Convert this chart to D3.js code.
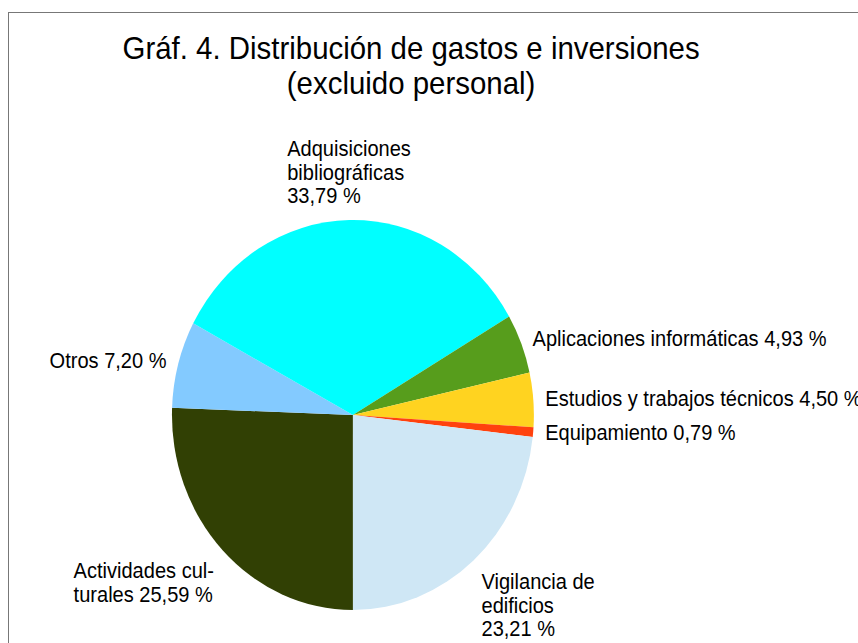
<!DOCTYPE html>
<meta charset="utf-8">
<head>
    <script src="https://d3js.org/d3.v7.min.js"></script>
    <style>
    body { margin: 0; background: white; }
    svg { display: block; background: white; font-family: "Liberation Sans", Arial, sans-serif; }
    </style>
</head>
<body>
    <svg id="svgid" width="858" height="643"></svg>
    <script>
        // data, in clockwise order starting at 6 o'clock
        var categories = ["Actividades culturales", "Otros", "Adquisiciones bibliográficas",
                          "Aplicaciones informáticas", "Estudios y trabajos técnicos",
                          "Equipamiento", "Vigilancia de edificios"];
        var values = [25.59, 7.20, 33.79, 4.93, 4.50, 0.79, 23.21];
        var colors = ["#314004", "#83caff", "#00ffff", "#579d1c", "#ffd320", "#ff420e", "#cfe7f5"];
        var labelLines = [
            ["Actividades cul-", "turales 25,59 %"],
            ["Otros 7,20 %"],
            ["Adquisiciones", "bibliográficas", "33,79 %"],
            ["Aplicaciones informáticas 4,93 %"],
            ["Estudios y trabajos técnicos 4,50 %"],
            ["Equipamiento 0,79 %"],
            ["Vigilancia de", "edificios", "23,21 %"]
        ];
        var titleLines = ["Gráf. 4. Distribución de gastos e inversiones", "(excluido personal)"];

        var svg = d3.select("#svgid");

        // outer frame
        svg.append("rect")
            .attr("x", 8.5).attr("y", 12.5)
            .attr("width", 900).attr("height", 700)
            .style("fill", "none")
            .style("stroke", "#777");

        // the original picture is squeezed horizontally
        var sx = 0.928;
        var g = svg.append("g").attr("transform", "scale(" + sx + ",1)");

        var cx = 380.3, cy = 415, radius = 195, labelR = 208;

        g.selectAll(".title")
            .data(titleLines)
            .enter().append("text")
            .attr("class", "title")
            .attr("x", 443)
            .attr("y", function(d, i) { return 59 + i * 35; })
            .style("text-anchor", "middle")
            .style("font-size", "31.7px")
            .style("fill", "#000")
            .text(function(d) { return d; });

        var pie = d3.pie().sort(null)
            .startAngle(Math.PI).endAngle(3 * Math.PI)
            .value(function(d) { return d; });
        var arcs = pie(values);
        var arc = d3.arc().innerRadius(0).outerRadius(radius);

        var pieG = g.append("g").attr("transform", "translate(" + cx + "," + cy + ")");
        pieG.selectAll("path")
            .data(arcs)
            .enter().append("path")
            .attr("d", arc)
            .style("fill", function(d, i) { return colors[i]; })
            .style("stroke", "none");

        // labels
        var lh = 23.5;
        arcs.forEach(function(d, i) {
            var mid = (d.startAngle + d.endAngle) / 2;
            var s = Math.sin(mid), c = Math.cos(mid);
            var px = cx + labelR * s, py = cy - labelR * c;
            var lines = labelLines[i];
            var t = g.append("text")
                .style("font-size", "21.6px")
                .style("fill", "#000");
            var spans = lines.map(function(l) { return t.append("tspan").text(l); });
            var w = d3.max(spans, function(sp) { return sp.node().getComputedTextLength(); });
            var left = s > 0.3 ? px : (s < -0.3 ? px - w : px - w / 2);
            var n = lines.length, first;
            if (c > 0.6) first = py - 4 - (n - 1) * lh;
            else if (c < -0.6) first = py + 19;
            else first = py + 7 - (n - 1) * lh / 2;
            spans.forEach(function(sp, j) {
                sp.attr("x", left).attr("y", first + j * lh);
            });
        });
    </script>
</body>
